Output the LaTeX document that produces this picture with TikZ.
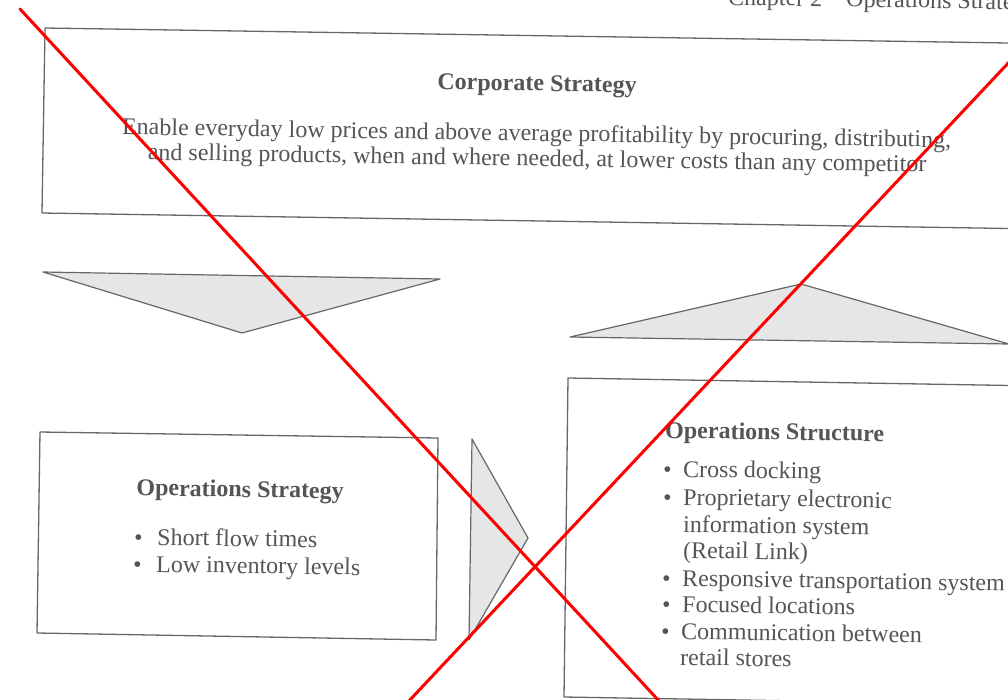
\documentclass[tikz,border=0pt]{standalone}
\usepackage{fontspec}
\setmainfont{Liberation Serif}
\definecolor{ink}{HTML}{555555}
\definecolor{rule}{HTML}{676767}
\definecolor{shade}{HTML}{E6E6E6}
\definecolor{strike}{HTML}{FF0000}
\begin{document}
\begin{tikzpicture}[x=1pt,y=-1pt,
  frame/.style={draw=rule, line width=1.3pt, line join=round},
  pointer/.style={draw=rule, fill=shade, line width=1.2pt, line join=round},
  txt/.style={text=ink, font=\fontsize{24}{27}\selectfont, inner sep=0pt, rotate=-0.9, anchor=base west},
  head/.style={txt, font=\bfseries\fontsize{24}{27}\selectfont},
  crossline/.style={draw=strike, line width=3pt, line cap=round}]
\useasboundingbox (0,0) rectangle (1008,699);
\clip (0,0) rectangle (1008,699);

% running head of the page
\node[txt] (runhead) at (728,5) {Chapter 2\quad Operations Strategy};

% corporate strategy box
\coordinate (cs-nw) at (45,28);
\coordinate (cs-ne) at (1040,43.5);
\coordinate (cs-se) at (1040,229);
\coordinate (cs-sw) at (42,213);
\draw[frame] (cs-nw) -- (cs-ne) -- (cs-se) -- (cs-sw) -- cycle;
\node[head, anchor=base] (cs-title) at (537,91) {Corporate Strategy};
\node[txt, anchor=base] (cs-line1) at (536.5,141) {Enable everyday low prices and above average profitability by procuring, distributing,};
\node[txt, anchor=base] (cs-line2) at (537,166) {and selling products, when and where needed, at lower costs than any competitor};

% wide pointers between the levels
\coordinate (down-w) at (43,272);
\coordinate (down-e) at (440,279);
\coordinate (down-tip) at (242,333);
\draw[pointer] (down-w) -- (down-e) -- (down-tip) -- cycle;
\coordinate (up-w) at (570,337);
\coordinate (up-tip) at (801,284);
\coordinate (up-e) at (1009,344);
\draw[pointer] (up-w) -- (up-tip) -- (up-e) -- cycle;
\coordinate (right-n) at (472,439);
\coordinate (right-tip) at (528,538);
\coordinate (right-s) at (469,640);
\draw[pointer] (right-n) -- (right-tip) -- (right-s) -- cycle;

% operations strategy box
\coordinate (os-nw) at (40,432);
\coordinate (os-ne) at (438,438);
\coordinate (os-se) at (436,640);
\coordinate (os-sw) at (37,633);
\draw[frame] (os-nw) -- (os-ne) -- (os-se) -- (os-sw) -- cycle;
\node[head, anchor=base] (os-title) at (240,497) {Operations Strategy};
\node[txt] (os-b1) at (134,545) {\textbullet};
\node[txt] (os-i1) at (157,545) {Short flow times};
\node[txt] (os-b2) at (133,572) {\textbullet};
\node[txt] (os-i2) at (156,572) {Low inventory levels};

% operations structure box
\coordinate (st-nw) at (568,378);
\coordinate (st-ne) at (1040,386);
\coordinate (st-se) at (1040,705);
\coordinate (st-sw) at (564,697);
\draw[frame] (st-nw) -- (st-ne) -- (st-se) -- (st-sw) -- cycle;
\node[head] (st-title) at (665,438) {Operations Structure};
\node[txt] (st-b1) at (663,477) {\textbullet};
\node[txt] (st-i1) at (683,477) {Cross docking};
\node[txt] (st-b2) at (663,505) {\textbullet};
\node[txt] (st-i2) at (683,505) {Proprietary electronic};
\node[txt] (st-i2b) at (683,532) {information system};
\node[txt] (st-i2c) at (683,558) {(Retail Link)};
\node[txt] (st-b3) at (662,586) {\textbullet};
\node[txt] (st-i3) at (682,586) {Responsive transportation system};
\node[txt] (st-b4) at (662,612) {\textbullet};
\node[txt] (st-i4) at (682,612) {Focused locations};
\node[txt] (st-b5) at (661,639) {\textbullet};
\node[txt] (st-i5) at (681,639) {Communication between};
\node[txt] (st-i5b) at (680,665) {retail stores};

% red cross struck through the page
\coordinate (xa-start) at (20,9);
\coordinate (xa-end) at (660,702);
\coordinate (xb-start) at (1012,59);
\coordinate (xb-end) at (408,702);
\draw[crossline] (xa-start) -- (xa-end);
\draw[crossline] (xb-start) -- (xb-end);
\end{tikzpicture}
\end{document}
